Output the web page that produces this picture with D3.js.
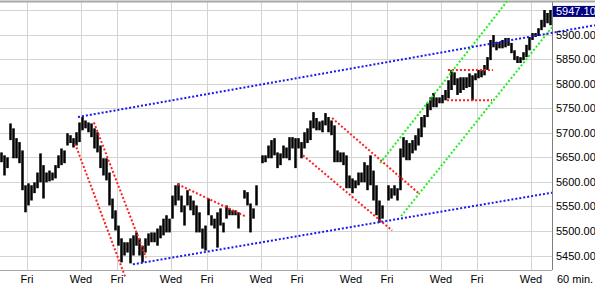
<!DOCTYPE html>
<html>
<head>
<meta charset="utf-8">
<script src="https://cdn.jsdelivr.net/npm/d3@7"></script>
<style>
  body { margin: 0; background: #fff; }
  svg { display: block; font-family: "Liberation Sans", Arial, sans-serif; }
</style>
</head>
<body>
<div id="chart"></div>
<script>
// 60 min bars, one entry per bar (null = no bar)
const highs = [
  5660,5654,5650,5719,5709,5689,5681,5664,5593,5597,
  5593,5599,5619,5658,5634,5619,5623,5619,5634,5654,
  5668,5664,5699,5695,5689,5701,5721,5732,5725,5721,
  5719,5709,5701,5674,5648,5648,5619,5566,5542,5511,
  5485,5477,5477,5485,5491,5497,5485,5470,5485,5495,
  5497,5497,5505,5511,5525,5532,5525,5572,5593,5597,
  5572,5552,5583,5572,5562,5552,5538,5505,5511,5566,
  5532,5525,5538,5546,5517,5552,5546,5542,5542,5538,
  null,5583,5579,5556,5546,5593,null,5654,5654,5674,
  5685,5689,5660,5658,5674,5670,5691,5691,5689,5689,
  5681,5701,5709,5725,5742,5730,5723,5725,5740,5732,
  5725,5715,5664,5660,5660,5654,5613,5607,5603,5619,
  5619,5640,5634,5654,5623,5593,5562,5552,null,5593,
  5587,5593,5587,5668,5691,5685,5679,5685,5695,5709,
  5732,5736,5760,5772,5781,5772,5772,5777,5787,5807,
  5828,5823,5811,5813,5813,5813,5821,5817,5821,5828,
  5828,5838,5854,5889,5899,5885,5885,5889,5893,5893,
  5883,5868,5856,5854,5864,5879,5895,5903,5903,5913,
  5930,5950,5944,5950
]
const lows = [
  5640,5613,5628,5685,5648,5648,5638,5583,5538,5552,
  5562,5577,5587,5599,5566,5599,5601,5603,5607,5628,
  5634,5638,5674,5679,5670,5674,5681,5705,5709,5701,
  5691,5668,5660,5628,5613,5603,5552,5525,5501,5470,
  5436,5450,5456,5434,5450,5470,5450,5436,5456,5470,
  5477,5477,5470,5485,5491,5497,5497,5525,5552,5562,
  5538,5511,5552,5542,5532,5497,5497,5464,5460,5532,
  5511,5505,5466,5511,5497,5525,5532,5532,5532,5505,
  null,5566,5552,5497,5525,5552,null,5638,5640,5648,
  5648,5654,5628,5634,5648,5648,5644,5668,5628,5668,
  5648,5668,5679,5685,5709,5705,5705,5701,5715,5701,
  5695,5640,5640,5640,5634,5587,5587,5577,5587,5593,
  5599,5599,5583,5593,5562,5532,5517,5525,null,5562,
  5566,5572,5562,5583,5650,5644,5644,5658,5664,5674,
  5691,5711,5732,5746,5752,5752,5760,5760,5766,5770,
  5787,5797,5777,5781,5787,5791,5793,5766,5807,5811,
  5813,5817,5828,5848,5874,5868,5872,5872,5874,5877,
  5862,5848,5842,5842,5848,5854,5868,5889,5895,5897,
  5909,5915,5923,5919
]
const lastPrice = 5947.10

// day ticks: bar index where the day starts
const dayTicks = [9, 27, 39, 57, 69, 87, 99, 117, 129, 147, 159, 177]
const dayLabels = ["Fri","Wed","Fri","Wed","Fri","Wed","Fri","Wed","Fri","Wed","Fri","Wed"]
const priceTicks = [5450, 5500, 5550, 5600, 5650, 5700, 5750, 5800, 5850, 5900]
const gridPrices = [5450, 5500, 5550, 5600, 5650, 5700, 5750, 5800, 5850, 5900, 5950]

// trendlines: [bar index, price] -> [bar index, price]
const blueLines = [
  [26, 5732, 198.3, 5919],
  [44.3, 5432, 184, 5578]
]
const redLines = [
  [25, 5678, 41.7, 5407],
  [31.3, 5721, 48.7, 5446],
  [59.3, 5595, 81.7, 5530],
  [110.7, 5730, 139.7, 5576],
  [101, 5654, 130.7, 5501],
  [149.3, 5828, 164.3, 5828],
  [149, 5766, 164, 5766]
]
const greenLines = [
  [126.7, 5638, 169.3, 5970],
  [133.7, 5530, 184, 5915]
]

let width = 595, height = 287
let plot = { left: 0, right: 552, top: 2, bottom: 270 }

let x = d3.scaleLinear()
  .domain([0, highs.length])
  .range([plot.left, plot.right])
let y = d3.scaleLinear()
  .domain([5450, 5950])
  .range([255.5, 10])

let svg = d3.select("#chart")
  .append("svg")
  .attr("width", width)
  .attr("height", height)

// grid
svg.append("g")
  .selectAll("line")
  .data(gridPrices)
  .join("line")
  .attr("x1", plot.left).attr("x2", plot.right)
  .attr("y1", d => Math.round(y(d)) + 0.5).attr("y2", d => Math.round(y(d)) + 0.5)
  .attr("stroke", "#d4d4d4")
svg.append("g")
  .selectAll("line")
  .data(dayTicks)
  .join("line")
  .attr("x1", d => Math.round(x(d)) + 0.5).attr("x2", d => Math.round(x(d)) + 0.5)
  .attr("y1", plot.top).attr("y2", plot.bottom)
  .attr("stroke", "#d4d4d4")

// frame
svg.append("line")
  .attr("x1", 0).attr("x2", width)
  .attr("y1", 1.5).attr("y2", 1.5)
  .attr("stroke", "#a8a8a8").attr("stroke-width", 2)
svg.append("line")
  .attr("x1", 0).attr("x2", plot.right)
  .attr("y1", plot.bottom + 0.5).attr("y2", plot.bottom + 0.5)
  .attr("stroke", "#a8a8a8")
svg.append("line")
  .attr("x1", plot.right + 0.5).attr("x2", plot.right + 0.5)
  .attr("y1", plot.top).attr("y2", plot.bottom)
  .attr("stroke", "#808080")

// bars
let bars = highs.map((h, i) => ({ i: i, h: h, l: lows[i] })).filter(d => d.h != null)
svg.append("g")
  .selectAll("rect")
  .data(bars)
  .join("rect")
  .attr("x", d => x(d.i + 0.5) - 1.25)
  .attr("width", 2.5)
  .attr("y", d => y(d.h))
  .attr("height", d => Math.max(1, y(d.l) - y(d.h)))
  .attr("fill", "#000")

// trendlines
const drawLines = (lines, color) => {
  svg.append("g")
    .selectAll("line")
    .data(lines)
    .join("line")
    .attr("x1", d => x(d[0])).attr("y1", d => y(d[1]))
    .attr("x2", d => x(d[2])).attr("y2", d => y(d[3]))
    .attr("stroke", color)
    .attr("stroke-width", 2)
    .attr("stroke-dasharray", "2,2")
}
drawLines(redLines, "#ff2020")
drawLines(greenLines, "#22ee22")
drawLines(blueLines, "#1a1aee")

// right axis labels
svg.append("g")
  .selectAll("text")
  .data(priceTicks)
  .join("text")
  .attr("x", 556)
  .attr("y", d => y(d) + 4)
  .style("font-size", "11px")
  .text(d => d.toFixed(2))

// last price box
svg.append("rect")
  .attr("x", 553).attr("y", y(lastPrice) - 5.5)
  .attr("width", 42).attr("height", 11)
  .attr("fill", "#000080")
svg.append("text")
  .attr("x", 556).attr("y", y(lastPrice) + 4)
  .attr("fill", "#fff")
  .style("font-size", "11px")
  .text(lastPrice.toFixed(2))

// bottom labels
svg.append("g")
  .selectAll("text")
  .data(dayTicks)
  .join("text")
  .attr("x", d => x(d))
  .attr("y", 283)
  .attr("text-anchor", "middle")
  .style("font-size", "11px")
  .text((d, i) => dayLabels[i])
svg.append("text")
  .attr("x", 557).attr("y", 283)
  .style("font-size", "11px")
  .text("60 min.")
</script>
</body>
</html>
